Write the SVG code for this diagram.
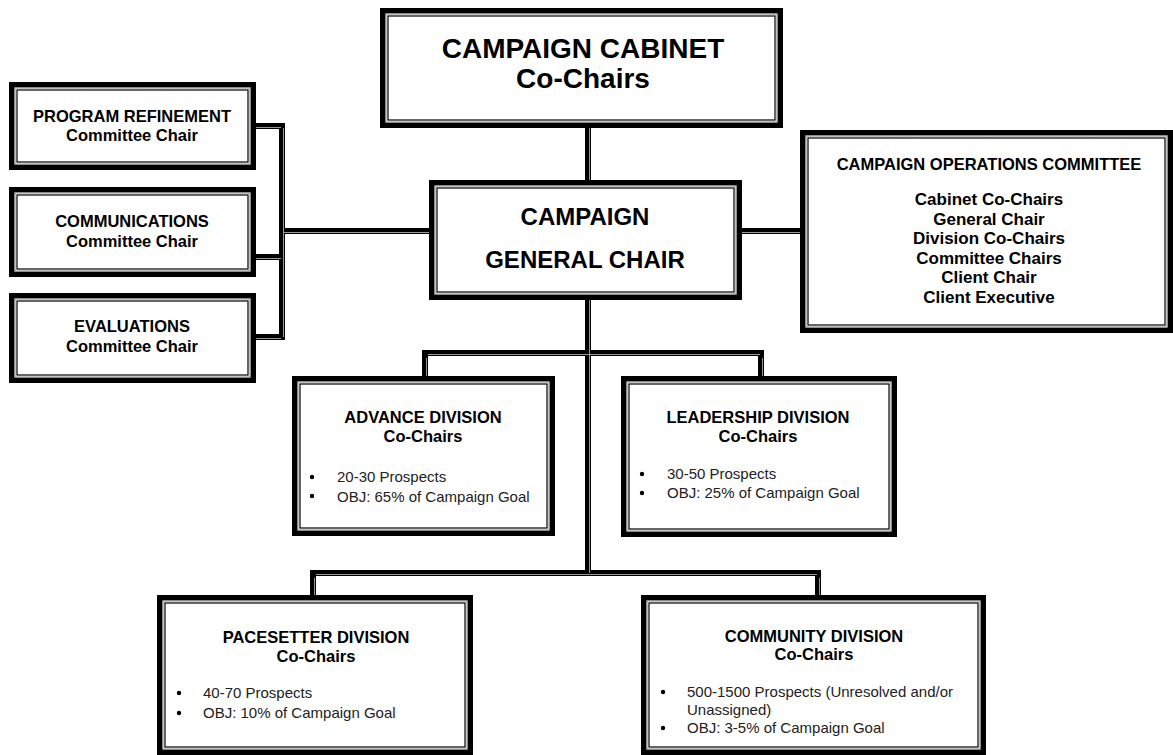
<svg xmlns="http://www.w3.org/2000/svg" width="1173" height="755" viewBox="0 0 1173 755">
<style>
.outer{fill:#fff;stroke:#000;stroke-width:5.5}
.gap{fill:none;stroke:#999;stroke-width:1.2}
.inner{fill:none;stroke:#000;stroke-width:1.2}
.conn{fill:none;stroke:#000;stroke-width:6;stroke-linejoin:miter}
.stripe{fill:none;stroke:#aaa;stroke-width:0.9}
text{font-family:"Liberation Sans",Arial,sans-serif;fill:#000}
.b{font-weight:bold;text-anchor:middle}
.n{fill:#222}
.dot{fill:#000}
</style>
<g id="connectors">
<path class="conn" d="M588,128 V180"/>
<path class="conn" d="M742,231 H800"/>
<path class="conn" d="M282,231 H429"/>
<path class="conn" d="M256,126 H282 V337 H256"/>
<path class="conn" d="M256,257 H282"/>
<path class="conn" d="M588,300 V573"/>
<path class="conn" d="M425,376 V353 H761 V376"/>
<path class="conn" d="M313,595 V573 H818 V595"/>
<path class="stripe" d="M589.5,128 V180 M589.5,300 V573 M283.5,128 V337 M426.5,358 V376 M762.5,358 V376 M314.5,578 V595 M819.5,578 V595"/>
<path class="stripe" d="M742,232.5 H800 M284,232.5 H429 M256,127.5 H281 M256,258.5 H281 M256,338.5 H281 M428,354.5 H760 M316,574.5 H817"/>
</g>
<g id="cabinet">
<rect class="outer" x="382.75" y="10.75" width="397.5" height="114.5"/>
<rect class="gap" x="386" y="14" width="391" height="108"/>
<rect class="inner" x="388" y="16" width="387" height="104"/>
<text class="b" x="583" y="58" font-size="28">CAMPAIGN CABINET</text>
<text class="b" x="583" y="88" font-size="28">Co-Chairs</text>
</g>
<g id="general">
<rect class="outer" x="431.75" y="182.75" width="307.5" height="114.5"/>
<rect class="gap" x="435" y="186" width="301" height="108"/>
<rect class="inner" x="437" y="188" width="297" height="104"/>
<text class="b" x="585" y="225" font-size="24">CAMPAIGN</text>
<text class="b" x="585" y="268" font-size="24">GENERAL CHAIR</text>
</g>
<g id="program">
<rect class="outer" x="11.75" y="84.75" width="241.5" height="82.5"/>
<rect class="gap" x="15" y="88" width="235" height="76"/>
<rect class="inner" x="17" y="90" width="231" height="72"/>
<text class="b" x="132" y="122" font-size="16.5">PROGRAM REFINEMENT</text>
<text class="b" x="132" y="141" font-size="16.5">Committee Chair</text>
</g>
<g id="communications">
<rect class="outer" x="11.75" y="189.75" width="241.5" height="84.5"/>
<rect class="gap" x="15" y="193" width="235" height="78"/>
<rect class="inner" x="17" y="195" width="231" height="74"/>
<text class="b" x="132" y="227" font-size="16.5">COMMUNICATIONS</text>
<text class="b" x="132" y="247" font-size="16.5">Committee Chair</text>
</g>
<g id="evaluations">
<rect class="outer" x="11.75" y="295.75" width="241.5" height="84.5"/>
<rect class="gap" x="15" y="299" width="235" height="78"/>
<rect class="inner" x="17" y="301" width="231" height="74"/>
<text class="b" x="132" y="332" font-size="16.5">EVALUATIONS</text>
<text class="b" x="132" y="352" font-size="16.5">Committee Chair</text>
</g>
<g id="operations">
<rect class="outer" x="802.75" y="132.75" width="367.5" height="197.5"/>
<rect class="gap" x="806" y="136" width="361" height="191"/>
<rect class="inner" x="808" y="138" width="357" height="187"/>
<text class="b" x="989" y="170" font-size="16.5">CAMPAIGN OPERATIONS COMMITTEE</text>
<text class="b" x="989" y="205" font-size="17">Cabinet Co-Chairs</text>
<text class="b" x="989" y="224.5" font-size="17">General Chair</text>
<text class="b" x="989" y="244" font-size="17">Division Co-Chairs</text>
<text class="b" x="989" y="263.5" font-size="17">Committee Chairs</text>
<text class="b" x="989" y="283" font-size="17">Client Chair</text>
<text class="b" x="989" y="302.5" font-size="17">Client Executive</text>
</g>
<g id="advance">
<rect class="outer" x="294.75" y="378.75" width="257.5" height="154.5"/>
<rect class="gap" x="298" y="382" width="251" height="148"/>
<rect class="inner" x="300" y="384" width="247" height="144"/>
<text class="b" x="423" y="423" font-size="16.5">ADVANCE DIVISION</text>
<text class="b" x="423" y="442" font-size="16.5">Co-Chairs</text>
<circle class="dot" cx="312" cy="477" r="2.2"/>
<circle class="dot" cx="312" cy="496" r="2.2"/>
<text class="n" x="337" y="482" font-size="15">20-30 Prospects</text>
<text class="n" x="337" y="502" font-size="15">OBJ: 65% of Campaign Goal</text>
</g>
<g id="leadership">
<rect class="outer" x="623.75" y="378.75" width="270.5" height="155.5"/>
<rect class="gap" x="627" y="382" width="264" height="149"/>
<rect class="inner" x="629" y="384" width="260" height="145"/>
<text class="b" x="758" y="423" font-size="16.5">LEADERSHIP DIVISION</text>
<text class="b" x="758" y="442" font-size="16.5">Co-Chairs</text>
<circle class="dot" cx="642" cy="474" r="2.2"/>
<circle class="dot" cx="642" cy="493" r="2.2"/>
<text class="n" x="667" y="479" font-size="15">30-50 Prospects</text>
<text class="n" x="667" y="498" font-size="15">OBJ: 25% of Campaign Goal</text>
</g>
<g id="pacesetter">
<rect class="outer" x="159.75" y="597.75" width="310.5" height="154.5"/>
<rect class="gap" x="163" y="601" width="304" height="148"/>
<rect class="inner" x="165" y="603" width="300" height="144"/>
<text class="b" x="316" y="643" font-size="16.5">PACESETTER DIVISION</text>
<text class="b" x="316" y="662" font-size="16.5">Co-Chairs</text>
<circle class="dot" cx="179" cy="693" r="2.2"/>
<circle class="dot" cx="179" cy="713" r="2.2"/>
<text class="n" x="203" y="698" font-size="15">40-70 Prospects</text>
<text class="n" x="203" y="718" font-size="15">OBJ: 10% of Campaign Goal</text>
</g>
<g id="community">
<rect class="outer" x="643.75" y="597.75" width="339.5" height="154.5"/>
<rect class="gap" x="647" y="601" width="333" height="148"/>
<rect class="inner" x="649" y="603" width="329" height="144"/>
<text class="b" x="814" y="642" font-size="16.5">COMMUNITY DIVISION</text>
<text class="b" x="814" y="660" font-size="16.5">Co-Chairs</text>
<circle class="dot" cx="663" cy="692" r="2.2"/>
<circle class="dot" cx="663" cy="728" r="2.2"/>
<text class="n" x="687" y="697" font-size="15">500-1500 Prospects (Unresolved and/or</text>
<text class="n" x="687" y="715" font-size="15">Unassigned)</text>
<text class="n" x="687" y="733" font-size="15">OBJ: 3-5% of Campaign Goal</text>
</g>
</svg>
